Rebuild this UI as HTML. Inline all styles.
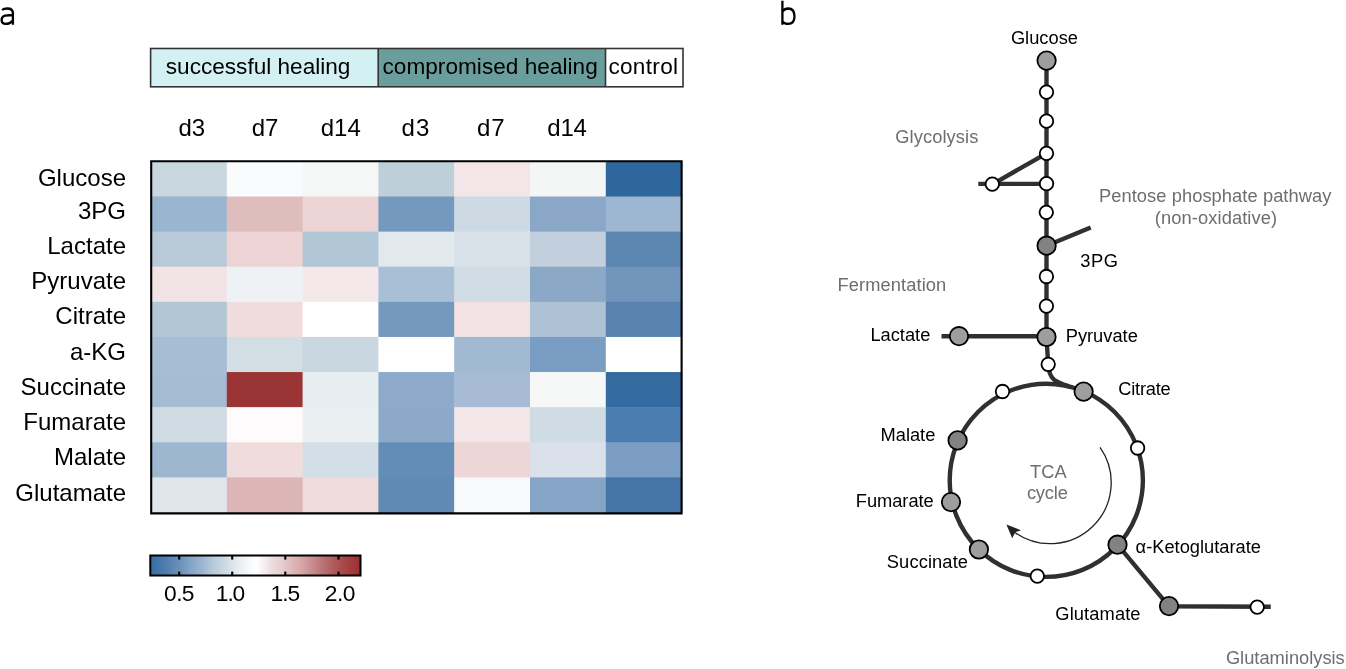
<!DOCTYPE html><html><head><meta charset="utf-8"><style>html,body{margin:0;padding:0;background:#fff;}svg{display:block;will-change:transform;}text{font-family:"Liberation Sans",sans-serif;}</style></head><body>
<svg width="1346" height="669" viewBox="0 0 1346 669">
<defs><linearGradient id="cb" x1="0" x2="1" y1="0" y2="0"><stop offset="0.008" stop-color="#3a6fa6"/><stop offset="0.056" stop-color="#4a7aaa"/><stop offset="0.103" stop-color="#5a86b2"/><stop offset="0.151" stop-color="#6e95bb"/><stop offset="0.198" stop-color="#86a6c9"/><stop offset="0.246" stop-color="#9ab5d0"/><stop offset="0.294" stop-color="#b5c8d8"/><stop offset="0.341" stop-color="#c8d6e0"/><stop offset="0.389" stop-color="#dce4ea"/><stop offset="0.436" stop-color="#eef1f4"/><stop offset="0.484" stop-color="#fafbfc"/><stop offset="0.508" stop-color="#ffffff"/><stop offset="0.531" stop-color="#f8f3f4"/><stop offset="0.579" stop-color="#ecdcde"/><stop offset="0.627" stop-color="#e5cdcf"/><stop offset="0.674" stop-color="#deb9ba"/><stop offset="0.722" stop-color="#d5a5a6"/><stop offset="0.769" stop-color="#c88e8f"/><stop offset="0.817" stop-color="#bb7476"/><stop offset="0.864" stop-color="#b15f61"/><stop offset="0.912" stop-color="#aa4a4c"/><stop offset="0.960" stop-color="#a23a3b"/><stop offset="0.998" stop-color="#9c3033"/></linearGradient></defs>
<path d="M2 10 C3.6 8.6 5.6 8.5 7.4 8.5 C10.9 8.5 12.9 9.9 12.9 13.2 L12.9 24.7 M12.9 15.4 C10 15.2 7 15.2 5 15.7 C2.6 16.3 1.6 17.8 1.6 20 C1.6 22.6 3.5 23.9 5.9 23.9 C8.6 23.9 11 22.6 12.9 20.6" fill="none" stroke="#000" stroke-width="2.3"/>
<path d="M782.4 0.7 L782.4 24.7 M782.4 11.8 C783.8 9.2 786 8.5 788.2 8.5 C792.3 8.5 794.5 11.6 794.5 16.3 C794.5 21.1 792.2 23.9 788.2 23.9 C785.9 23.9 783.7 23.2 782.4 21.3" fill="none" stroke="#000" stroke-width="2.3"/>
<rect x="150.5" y="48.5" width="228" height="38" fill="#d3f0f2"/>
<rect x="378.5" y="48.5" width="227" height="38" fill="#6a9e9c"/>
<rect x="605.5" y="48.5" width="77.5" height="38" fill="#ffffff"/>
<rect x="150.6" y="48.5" width="532.4" height="38.3" fill="none" stroke="#333" stroke-width="1.6"/>
<line x1="378.2" y1="48.5" x2="378.2" y2="86.8" stroke="#333" stroke-width="1.6"/>
<line x1="605.5" y1="48.5" x2="605.5" y2="86.8" stroke="#333" stroke-width="1.6"/>
<text x="165.8" y="73.9" font-size="22.6" fill="#000">successful healing</text>
<text x="382.5" y="73.8" font-size="22.6" fill="#000" textLength="215.27" lengthAdjust="spacing">compromised healing</text>
<text x="608.4" y="74.0" font-size="22.6" fill="#000" textLength="69.63" lengthAdjust="spacing">control</text>
<text x="178.4" y="135.5" font-size="24" fill="#000">d3</text>
<text x="251.7" y="135.5" font-size="24" fill="#000">d7</text>
<text x="320.7" y="135.5" font-size="24" fill="#000">d14</text>
<text x="401.5" y="135.5" font-size="24" fill="#000" textLength="27.9" lengthAdjust="spacing">d3</text>
<text x="477.1" y="135.5" font-size="24" fill="#000" textLength="27.5" lengthAdjust="spacing">d7</text>
<text x="547.3" y="135.5" font-size="24" fill="#000" textLength="39.65" lengthAdjust="spacing">d14</text>
<rect x="151.00" y="161.40" width="76.40" height="35.71" fill="#c9d7df"/>
<rect x="226.80" y="161.40" width="76.40" height="35.71" fill="#fafbfd"/>
<rect x="302.60" y="161.40" width="76.40" height="35.71" fill="#f5f7f7"/>
<rect x="378.40" y="161.40" width="76.40" height="35.71" fill="#bfcfda"/>
<rect x="454.20" y="161.40" width="76.40" height="35.71" fill="#f4e6e8"/>
<rect x="530.00" y="161.40" width="76.40" height="35.71" fill="#f4f6f6"/>
<rect x="605.80" y="161.40" width="76.40" height="35.71" fill="#2e679c"/>
<rect x="151.00" y="196.51" width="76.40" height="35.71" fill="#9ab5cf"/>
<rect x="226.80" y="196.51" width="76.40" height="35.71" fill="#e0bdbd"/>
<rect x="302.60" y="196.51" width="76.40" height="35.71" fill="#ecd4d4"/>
<rect x="378.40" y="196.51" width="76.40" height="35.71" fill="#7599be"/>
<rect x="454.20" y="196.51" width="76.40" height="35.71" fill="#cddae3"/>
<rect x="530.00" y="196.51" width="76.40" height="35.71" fill="#8ba7c7"/>
<rect x="605.80" y="196.51" width="76.40" height="35.71" fill="#9db6d1"/>
<rect x="151.00" y="231.62" width="76.40" height="35.71" fill="#b8cad7"/>
<rect x="226.80" y="231.62" width="76.40" height="35.71" fill="#edd3d3"/>
<rect x="302.60" y="231.62" width="76.40" height="35.71" fill="#b1c6d7"/>
<rect x="378.40" y="231.62" width="76.40" height="35.71" fill="#e1e9ed"/>
<rect x="454.20" y="231.62" width="76.40" height="35.71" fill="#d9e1e9"/>
<rect x="530.00" y="231.62" width="76.40" height="35.71" fill="#c1d0dc"/>
<rect x="605.80" y="231.62" width="76.40" height="35.71" fill="#5b87b1"/>
<rect x="151.00" y="266.73" width="76.40" height="35.71" fill="#f2e3e4"/>
<rect x="226.80" y="266.73" width="76.40" height="35.71" fill="#eff2f5"/>
<rect x="302.60" y="266.73" width="76.40" height="35.71" fill="#f4e8ea"/>
<rect x="378.40" y="266.73" width="76.40" height="35.71" fill="#a8bfd6"/>
<rect x="454.20" y="266.73" width="76.40" height="35.71" fill="#d1dde4"/>
<rect x="530.00" y="266.73" width="76.40" height="35.71" fill="#8ba8c7"/>
<rect x="605.80" y="266.73" width="76.40" height="35.71" fill="#7295bb"/>
<rect x="151.00" y="301.84" width="76.40" height="35.71" fill="#b3c6d6"/>
<rect x="226.80" y="301.84" width="76.40" height="35.71" fill="#f0dcdd"/>
<rect x="302.60" y="301.84" width="76.40" height="35.71" fill="#ffffff"/>
<rect x="378.40" y="301.84" width="76.40" height="35.71" fill="#7598be"/>
<rect x="454.20" y="301.84" width="76.40" height="35.71" fill="#f2e2e3"/>
<rect x="530.00" y="301.84" width="76.40" height="35.71" fill="#aec2d5"/>
<rect x="605.80" y="301.84" width="76.40" height="35.71" fill="#5883b0"/>
<rect x="151.00" y="336.95" width="76.40" height="35.71" fill="#a6bdd4"/>
<rect x="226.80" y="336.95" width="76.40" height="35.71" fill="#d3dde4"/>
<rect x="302.60" y="336.95" width="76.40" height="35.71" fill="#c9d7e0"/>
<rect x="378.40" y="336.95" width="76.40" height="35.71" fill="#ffffff"/>
<rect x="454.20" y="336.95" width="76.40" height="35.71" fill="#a1b9d1"/>
<rect x="530.00" y="336.95" width="76.40" height="35.71" fill="#7a9ec3"/>
<rect x="605.80" y="336.95" width="76.40" height="35.71" fill="#ffffff"/>
<rect x="151.00" y="372.06" width="76.40" height="35.71" fill="#a6bcd3"/>
<rect x="226.80" y="372.06" width="76.40" height="35.71" fill="#9b3535"/>
<rect x="302.60" y="372.06" width="76.40" height="35.71" fill="#e6eef1"/>
<rect x="378.40" y="372.06" width="76.40" height="35.71" fill="#8eaaca"/>
<rect x="454.20" y="372.06" width="76.40" height="35.71" fill="#a7bcd4"/>
<rect x="530.00" y="372.06" width="76.40" height="35.71" fill="#f6f8f8"/>
<rect x="605.80" y="372.06" width="76.40" height="35.71" fill="#336a9f"/>
<rect x="151.00" y="407.17" width="76.40" height="35.71" fill="#cfdbe2"/>
<rect x="226.80" y="407.17" width="76.40" height="35.71" fill="#fefbfc"/>
<rect x="302.60" y="407.17" width="76.40" height="35.71" fill="#eaf0f1"/>
<rect x="378.40" y="407.17" width="76.40" height="35.71" fill="#8ca9c9"/>
<rect x="454.20" y="407.17" width="76.40" height="35.71" fill="#f3e6e8"/>
<rect x="530.00" y="407.17" width="76.40" height="35.71" fill="#d0dce4"/>
<rect x="605.80" y="407.17" width="76.40" height="35.71" fill="#4c7db0"/>
<rect x="151.00" y="442.28" width="76.40" height="35.71" fill="#9db7d1"/>
<rect x="226.80" y="442.28" width="76.40" height="35.71" fill="#f1dcdd"/>
<rect x="302.60" y="442.28" width="76.40" height="35.71" fill="#d3dee6"/>
<rect x="378.40" y="442.28" width="76.40" height="35.71" fill="#628db6"/>
<rect x="454.20" y="442.28" width="76.40" height="35.71" fill="#eed6d7"/>
<rect x="530.00" y="442.28" width="76.40" height="35.71" fill="#dae1ea"/>
<rect x="605.80" y="442.28" width="76.40" height="35.71" fill="#7c9ec4"/>
<rect x="151.00" y="477.39" width="76.40" height="35.71" fill="#dfe7ea"/>
<rect x="226.80" y="477.39" width="76.40" height="35.71" fill="#dcb5b6"/>
<rect x="302.60" y="477.39" width="76.40" height="35.71" fill="#eedcdd"/>
<rect x="378.40" y="477.39" width="76.40" height="35.71" fill="#5f8bb3"/>
<rect x="454.20" y="477.39" width="76.40" height="35.71" fill="#f7f9fb"/>
<rect x="530.00" y="477.39" width="76.40" height="35.71" fill="#86a5c6"/>
<rect x="605.80" y="477.39" width="76.40" height="35.71" fill="#4574a7"/>
<path d="M150.2 161.25 H682.6 M681.6 160.2 V514.4 M682.6 513.4 H150.2 M151.2 514.4 V160.2" fill="none" stroke="#000" stroke-width="2.1"/>
<text x="126" y="186.1" font-size="24" text-anchor="end">Glucose</text>
<text x="126" y="218.9" font-size="24" text-anchor="end">3PG</text>
<text x="126" y="253.6" font-size="24" text-anchor="end">Lactate</text>
<text x="126" y="288.9" font-size="24" text-anchor="end">Pyruvate</text>
<text x="126" y="324.2" font-size="24" text-anchor="end">Citrate</text>
<text x="126" y="359.5" font-size="24" text-anchor="end">a-KG</text>
<text x="126" y="394.6" font-size="24" text-anchor="end">Succinate</text>
<text x="126" y="429.8" font-size="24" text-anchor="end">Fumarate</text>
<text x="126" y="465.1" font-size="24" text-anchor="end">Malate</text>
<text x="126" y="500.5" font-size="24" text-anchor="end">Glutamate</text>
<rect x="150.3" y="555.5" width="210.2" height="20" fill="url(#cb)" stroke="#000" stroke-width="2"/>
<line x1="179.2" y1="556" x2="179.2" y2="559.6" stroke="#000" stroke-width="2.1"/>
<line x1="179.2" y1="571.6" x2="179.2" y2="575" stroke="#000" stroke-width="2.1"/>
<line x1="232.2" y1="556" x2="232.2" y2="559.6" stroke="#000" stroke-width="2.1"/>
<line x1="232.2" y1="571.6" x2="232.2" y2="575" stroke="#000" stroke-width="2.1"/>
<line x1="285.3" y1="556" x2="285.3" y2="559.6" stroke="#000" stroke-width="2.1"/>
<line x1="285.3" y1="571.6" x2="285.3" y2="575" stroke="#000" stroke-width="2.1"/>
<line x1="338.5" y1="556" x2="338.5" y2="559.6" stroke="#000" stroke-width="2.1"/>
<line x1="338.5" y1="571.6" x2="338.5" y2="575" stroke="#000" stroke-width="2.1"/>
<text x="164.1" y="601.4" font-size="22.8" fill="#000" textLength="30.4" lengthAdjust="spacing">0.5</text>
<text x="215.8" y="601.4" font-size="22.8" fill="#000" textLength="29.5" lengthAdjust="spacing">1.0</text>
<text x="270.4" y="601.4" font-size="22.8" fill="#000" textLength="29.9" lengthAdjust="spacing">1.5</text>
<text x="324.8" y="601.4" font-size="22.8" fill="#000" textLength="30.7" lengthAdjust="spacing">2.0</text>
<g stroke="#303030" stroke-width="4.4" fill="none" stroke-linecap="butt">
<line x1="1046.5" y1="60.6" x2="1046.5" y2="337"/>
<line x1="978.3" y1="183.85" x2="1046.5" y2="183.85"/>
<line x1="992.3" y1="184.3" x2="1046.5" y2="153.3"/>
<line x1="1046.6" y1="245.7" x2="1090.7" y2="227.5"/>
<line x1="941.5" y1="336.3" x2="1046.5" y2="336.3"/>
<path d="M1046.5 337 Q1047.3 350 1048.2 364.3 C1048.6 372 1050.5 376.5 1054 379.6 C1057.5 382.4 1062 383.9 1069 386.3"/>
<circle cx="1046.3" cy="480.3" r="96.6"/>
<path d="M1117.5 544.7 L1169 606.3 L1270.8 606.8"/>
</g>
<path d="M1100.03 447.38 A61.1 61.1 0 0 1 1013.33 531.4" stroke="#222" stroke-width="1.3" fill="none"/>
<path d="M1006.4 524.5 L1021 530.2 L1015.2 532.3 L1012.2 538.2 Z" fill="#222"/>
<circle cx="1046.6" cy="60.6" r="9.2" fill="#9e9e9e" stroke="#000" stroke-width="1.8"/>
<circle cx="1046.5" cy="92.1" r="6.75" fill="#fff" stroke="#000" stroke-width="1.8"/>
<circle cx="1046.5" cy="121.2" r="6.75" fill="#fff" stroke="#000" stroke-width="1.8"/>
<circle cx="1046.5" cy="153.3" r="6.75" fill="#fff" stroke="#000" stroke-width="1.8"/>
<circle cx="1046.5" cy="183.7" r="6.75" fill="#fff" stroke="#000" stroke-width="1.8"/>
<circle cx="992.3" cy="184.2" r="6.75" fill="#fff" stroke="#000" stroke-width="1.8"/>
<circle cx="1046.3" cy="212.35" r="6.75" fill="#fff" stroke="#000" stroke-width="1.8"/>
<circle cx="1046.6" cy="245.7" r="9.2" fill="#828282" stroke="#000" stroke-width="1.8"/>
<circle cx="1046.4" cy="276.5" r="6.75" fill="#fff" stroke="#000" stroke-width="1.8"/>
<circle cx="1046.4" cy="306.1" r="6.75" fill="#fff" stroke="#000" stroke-width="1.8"/>
<circle cx="1046.5" cy="337.0" r="9.2" fill="#9e9e9e" stroke="#000" stroke-width="1.8"/>
<circle cx="959" cy="336.2" r="9.2" fill="#9e9e9e" stroke="#000" stroke-width="1.8"/>
<circle cx="1048.2" cy="364.3" r="6.75" fill="#fff" stroke="#000" stroke-width="1.8"/>
<circle cx="1083.6" cy="391.6" r="9.2" fill="#9e9e9e" stroke="#000" stroke-width="1.8"/>
<circle cx="1002.5" cy="391.5" r="6.75" fill="#fff" stroke="#000" stroke-width="1.8"/>
<circle cx="957.6" cy="440.4" r="9.2" fill="#828282" stroke="#000" stroke-width="1.8"/>
<circle cx="951" cy="502.1" r="9.2" fill="#9e9e9e" stroke="#000" stroke-width="1.8"/>
<circle cx="978.9" cy="549.5" r="9.2" fill="#9e9e9e" stroke="#000" stroke-width="1.8"/>
<circle cx="1037.3" cy="576.2" r="6.75" fill="#fff" stroke="#000" stroke-width="1.8"/>
<circle cx="1117.5" cy="544.7" r="9.2" fill="#828282" stroke="#000" stroke-width="1.8"/>
<circle cx="1137.6" cy="448" r="6.75" fill="#fff" stroke="#000" stroke-width="1.8"/>
<circle cx="1169" cy="606.1" r="9.2" fill="#828282" stroke="#000" stroke-width="1.8"/>
<circle cx="1257.2" cy="607.1" r="6.75" fill="#fff" stroke="#000" stroke-width="1.8"/>
<text x="1010.9" y="44.1" font-size="18.3" fill="#000">Glucose</text>
<text x="1080.2" y="266.8" font-size="18.3" fill="#000" textLength="37.69" lengthAdjust="spacing">3PG</text>
<text x="870.4" y="340.8" font-size="18.3" fill="#000">Lactate</text>
<text x="1065.7" y="342.4" font-size="18.3" fill="#000">Pyruvate</text>
<text x="1118.2" y="394.6" font-size="18.3" fill="#000" textLength="52.56" lengthAdjust="spacing">Citrate</text>
<text x="880.5" y="441.2" font-size="18.3" fill="#000">Malate</text>
<text x="855.8" y="506.8" font-size="18.3" fill="#000" textLength="77.93" lengthAdjust="spacing">Fumarate</text>
<text x="1135.6" y="552.8" font-size="18.3" fill="#000">α-Ketoglutarate</text>
<text x="886.8" y="567.9" font-size="18.3" fill="#000" textLength="81.2" lengthAdjust="spacing">Succinate</text>
<text x="1055.3" y="619.8" font-size="18.3" fill="#000" textLength="85.24" lengthAdjust="spacing">Glutamate</text>
<text x="895.3" y="142.8" font-size="18.3" fill="#6e6e6e" textLength="82.98" lengthAdjust="spacing">Glycolysis</text>
<text x="1098.9" y="202.0" font-size="18.3" fill="#6e6e6e" textLength="232.53" lengthAdjust="spacing">Pentose phosphate pathway</text>
<text x="1154.8" y="223.5" font-size="18.3" fill="#6e6e6e" textLength="122.32" lengthAdjust="spacing">(non-oxidative)</text>
<text x="837.5" y="291.2" font-size="18.3" fill="#6e6e6e" textLength="108.72" lengthAdjust="spacing">Fermentation</text>
<text x="1030.1" y="477.8" font-size="18.3" fill="#6e6e6e">TCA</text>
<text x="1026.9" y="499.2" font-size="18.3" fill="#6e6e6e" textLength="40.96" lengthAdjust="spacing">cycle</text>
<text x="1225.9" y="664.0" font-size="18.3" fill="#6e6e6e">Glutaminolysis</text>
</svg></body></html>
